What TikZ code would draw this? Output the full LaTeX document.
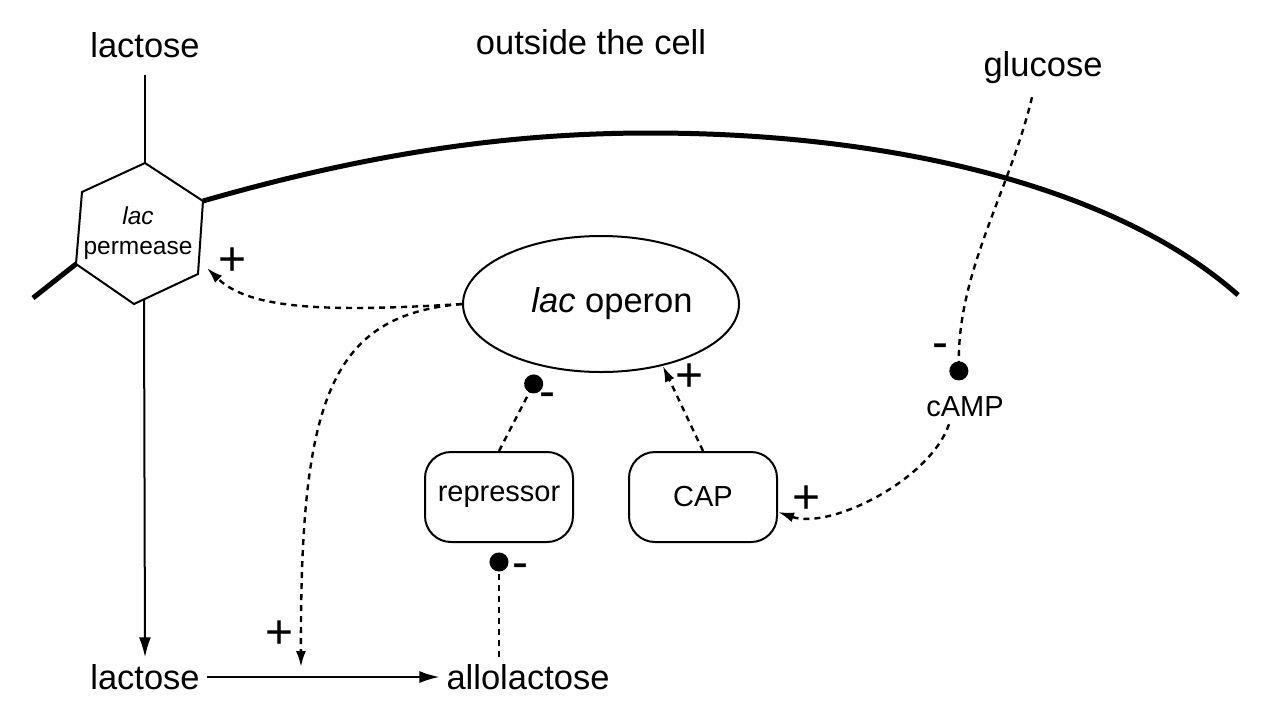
\documentclass[tikz,border=0pt]{standalone}
\usepackage{fontspec}
\setmainfont{Liberation Sans}
\usetikzlibrary{arrows.meta,shapes.geometric}
\tikzset{
  bigtxt/.style={font=\fontsize{17.25}{20}\selectfont},
  midtxt/.style={font=\fontsize{14.5}{17}\selectfont},
  smalltxt/.style={font=\fontsize{12.25}{15}\selectfont},
  signtxt/.style={font=\fontsize{24}{24}\selectfont,inner sep=0pt},
  flowarrow/.style={line width=1pt,-{Latex[length=10pt,width=6pt]}},
  regline/.style={line width=1.2pt,dash pattern=on 3pt off 2.5pt},
  actarrow/.style={regline,-{Latex[length=8pt,width=5pt]}},
  inharrow/.style={regline,-{Circle[length=9.5pt]}},
  protein/.style={draw,line width=1pt,rounded corners=13pt,minimum width=74pt,minimum height=45pt,midtxt}
}
\begin{document}
\begin{tikzpicture}[x=0.5pt,y=-0.5pt]
   \useasboundingbox (0,0) rectangle (1272,718);
   \draw [line width=2.5pt] (33,298) -- (76,264);
   \draw [line width=2.5pt] (203,201) .. controls (380,150) and (520,133) .. (650,133) .. controls (900,133) and (1120,190) .. (1238,295);
   \draw [line width=1pt] (145,163) coordinate (ptop) -- (203,201) -- (198,274) -- (134,304) -- (76,264) -- (82,192) -- cycle;
   \coordinate (pbot) at (144,300);
   \coordinate (ptip) at (207,268);
   \coordinate (rxn) at (301,667);
   \node [smalltxt,align=center] (perm) at (138,233) {\textit{lac}\\permease};
   \node [bigtxt] (lacout) at (145,45) {lactose};
   \node [bigtxt] (outside) at (591,42) {outside the cell};
   \node [bigtxt] (glu) at (1043,68) {glucose};
   \node [bigtxt] (lacin) at (145,677) {lactose};
   \node [bigtxt] (allo) at (528,677) {allolactose};
   \node [draw,ellipse,line width=1pt,inner sep=0pt,minimum width=138pt,minimum height=68pt,bigtxt] (op) at (601,304) {\hspace*{11pt}\textit{lac} operon};
   \node [protein] (rep) at (499,497) {repressor};
   \node [protein] (cap) at (703,497) {CAP};
   \node [midtxt] (camp) at (965,407) {cAMP};
   \node [signtxt] (s1) at (233,262) {+};
   \node [signtxt] (s2) at (280,635) {+};
   \node [signtxt] (s3) at (690,378) {+};
   \node [signtxt] (s4) at (807,500) {+};
   \node [signtxt] (s5) at (547,400) {-};
   \node [signtxt] (s6) at (520,571) {-};
   \node [signtxt] (s7) at (940,351) {-};
   \draw [line width=1pt,shorten <=5pt] (lacout.south) -- (ptop);
   \draw [flowarrow] (pbot) -- (lacin.north);
   \draw [flowarrow] (lacin.east) -- (allo.west);
   \draw [actarrow] (op.west) .. controls (330,312) and (250,310) .. (ptip);
   \draw [actarrow] (op.west) .. controls (330,315) and (300,400) .. (rxn);
   \draw [actarrow] (cap.north) -- (op.-45);
   \draw [inharrow,shorten >=5pt] (rep.north) -- (op.-133);
   \draw [inharrow,shorten >=4.75pt] (allo.north -| rep.south) -- (rep.south);
   \draw [inharrow,shorten >=4.7pt] ([xshift=-5.5pt,yshift=-3pt]glu.south) .. controls (1010,190) and (958,270) .. ([xshift=-3pt]camp.north);
   \draw [actarrow] ([xshift=-8pt]camp.south) .. controls (930,480) and (830,530) .. ([yshift=-7.5pt]cap.east);
\end{tikzpicture}
\end{document}
